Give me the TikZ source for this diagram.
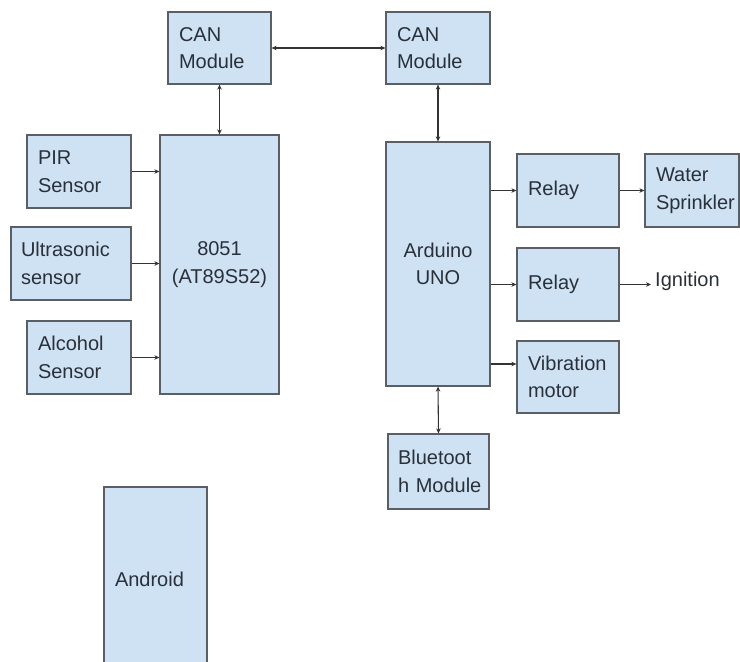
\documentclass[tikz,border=0pt]{standalone}
\usepackage{fontspec}
\setmainfont{Liberation Sans}
\usetikzlibrary{arrows.meta}
\definecolor{boxblue}{HTML}{CFE2F3}
\definecolor{boxline}{HTML}{5A5F66}
\definecolor{txtcol}{HTML}{2A303A}
\definecolor{arrcol}{HTML}{333333}
\tikzset{
  blk/.style={draw=boxline, fill=boxblue, line width=1.2pt, inner xsep=11pt, inner ysep=0pt,
    text=txtcol, font=\fontsize{20}{27.5}\selectfont, align=left},
  cblk/.style={blk, align=center},
  conn/.style={draw=arrcol, line width=1.1pt, -{Stealth[length=5pt,width=4.5pt]}},
  bconn/.style={draw=arrcol, line width=1.1pt, {Stealth[length=5pt,width=4.5pt]}-{Stealth[length=5pt,width=4.5pt]}},
}
\begin{document}
\begin{tikzpicture}[x=1pt,y=-1pt]
\useasboundingbox (0,0) rectangle (740,662);
\clip (0,0) rectangle (740,662);
\fill[white] (0,0) rectangle (740,662);

\node[blk, text width=81pt, minimum height=72pt] (canL) at (219.5,48) {CAN\\Module};
\node[blk, text width=82pt, minimum height=72pt] (canR) at (438,48) {CAN\\Module};
\node[blk, text width=82pt, minimum height=73pt] (pir) at (79,171.5) {PIR\\Sensor};
\node[blk, minimum height=73pt, inner xsep=10pt, text width=100pt] (ultra) at (71,263.5) {Ultrasonic\\sensor};
\node[blk, text width=82pt, minimum height=73pt] (alc) at (79,357.5) {Alcohol\\Sensor};
\node[cblk, text width=97pt, minimum height=259pt] (mcu) at (219.5,264.5) {8051\\(AT89S52)};
\node[cblk, text width=82pt, minimum height=244pt] (ard) at (438,264) {Arduino\\UNO};
\node[blk, text width=80pt, minimum height=73pt] (relayA) at (568,190.5) {Relay};
\node[blk, text width=72pt, minimum height=73pt] (water) at (692,190.5) {Water\\Sprinkler};
\node[blk, text width=80pt, minimum height=73pt] (relayB) at (568,284.5) {Relay};
\node[blk, text width=80pt, minimum height=72pt] (vib) at (568,377) {Vibration\\motor};
\node[blk, text width=81pt, inner xsep=10pt, minimum height=75pt] (bt) at (438.5,471.5) {\hbox{Bluetoot}\\\hbox{h Module}};
\node[blk, text width=81pt, minimum height=185pt] (android) at (155.5,579.5) {Android};
\node[anchor=base west, inner xsep=4pt, inner ysep=0pt, text=txtcol, font=\fontsize{20}{27.5}\selectfont] (ign) at (651,286) {Ignition};
\coordinate (vibin) at ([yshift=13pt]vib.west);

\draw[bconn] (canL.east) -- (canR.west);
\draw[bconn] (canL.south) -- (mcu.north);
\draw[bconn] (canR.south) -- (ard.north);
\draw[conn] (pir.east) -- (pir.east -| mcu.west);
\draw[conn] (ultra.east) -- (ultra.east -| mcu.west);
\draw[conn] (alc.east) -- (alc.east -| mcu.west);
\draw[conn] (ard.east |- relayA.west) -- (relayA.west);
\draw[conn] (ard.east |- relayB.west) -- (relayB.west);
\draw[conn] (ard.east |- vibin) -- (vibin);
\draw[conn] (relayA.east) -- (water.west);
\draw[conn] (relayB.east) -- (relayB.east -| ign.west);
\draw[bconn] (ard.south) -- (bt.north);
\end{tikzpicture}
\end{document}
